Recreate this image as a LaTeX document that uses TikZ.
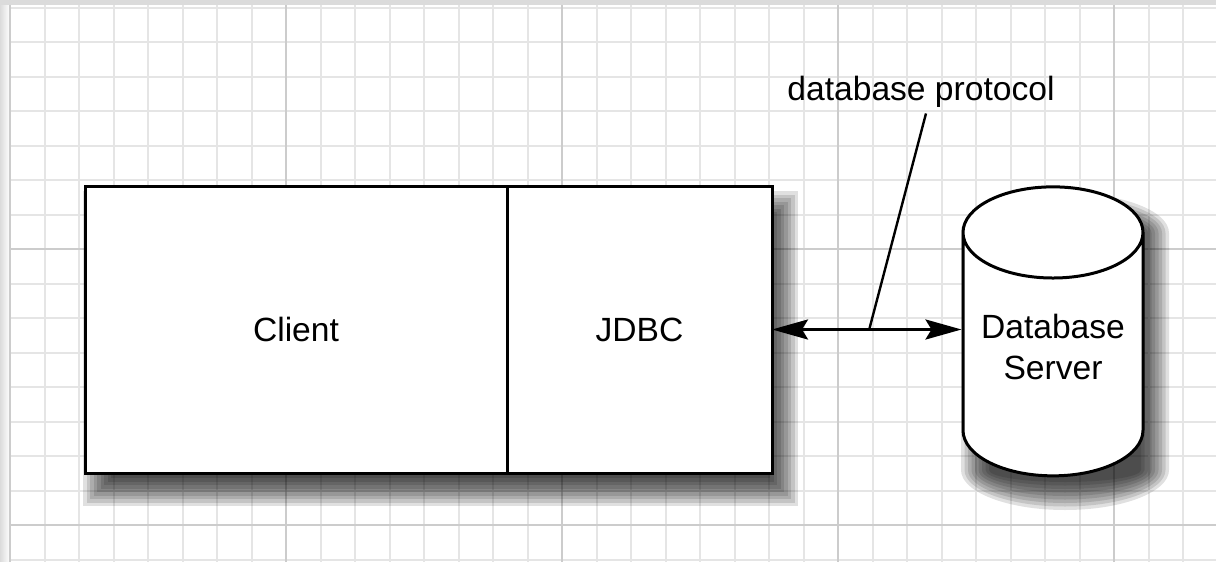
\documentclass[tikz,border=0pt]{standalone}
\usepackage{fontspec}
\setmainfont{Liberation Sans}
\usetikzlibrary{shapes.geometric}
\usetikzlibrary{arrows.meta}
\usetikzlibrary{positioning}
\definecolor{gridminor}{gray}{0.9}
\definecolor{gridmajor}{gray}{0.8}
\definecolor{edgegray}{gray}{0.86}

\begin{document}
\begin{tikzpicture}[x=0.5pt,y=-0.5pt,thick]
\tikzset{
    boxnode/.style = {rectangle, draw=black, line width=1.5pt, fill=white, outer sep=0pt, minimum height=143.5pt, font=\fontsize{16.8}{20.5}\selectfont},
    dbnode/.style  = {cylinder, shape border rotate=90, aspect=0.58, draw=black, line width=1.5pt, fill=white, minimum width=90pt, minimum height=144.5pt, align=center, text depth=16.5pt, font=\fontsize{16.8}{20.5}\selectfont},
    shadowlayer/.style = {black, opacity=0.12},
    conn/.style    = {line width=1.5pt, {Stealth[length=18pt,width=10pt,inset=3pt,fill=black]}-{Stealth[length=18pt,width=10pt,inset=3pt,fill=black]}},
    pointer/.style = {line width=1.2pt}
}
\useasboundingbox (0,0) rectangle (1216,562);
% grid paper
\fill[white] (0,0) rectangle (1216,562);
\shade[left color=edgegray, right color=white] (0,0) rectangle (10,562);
\fill[edgegray] (0,0) rectangle (1216,5);
\foreach \k in {0,...,35}
    \draw[gridminor, line width=1pt] ({10+34.5*\k},5) -- ({10+34.5*\k},562);
\foreach \k in {0,...,16}
    \draw[gridminor, line width=1pt] (10,{7.5+34.5*\k}) -- (1216,{7.5+34.5*\k});
\foreach \k in {0,...,4}
    \draw[gridmajor, line width=1pt] ({10+276*\k},5) -- ({10+276*\k},562);
\foreach \y in {249,525}
    \draw[gridmajor, line width=1pt] (10,\y) -- (1216,\y);

% soft shadows
\foreach \e in {14,10.5,...,-14} {
    \fill[shadowlayer] ({97-\e},{205-\e}) rectangle ({784+\e},{492+\e});
    \fill[shadowlayer] ({975-\e},233) arc[start angle=180, end angle=360, x radius={90+\e}, y radius={26+\e}]
        -- ({1155+\e},470) arc[start angle=0, end angle=180, x radius={90+\e}, y radius={26+\e}] -- cycle;
}

% client side
\coordinate (appNW) at (85,186);
\node[boxnode, minimum width=211pt, anchor=north west] (client) at (appNW) {Client};
\node[boxnode, minimum width=132.5pt, right=0pt of client] (jdbc) {JDBC};

\node[dbnode] (db) at (1053,363.5) {Database\\Server};

\draw[conn] (jdbc.east) -- coordinate[pos=0.513] (tap) (jdbc.east -| db.west);
\node[font=\fontsize{16.8}{20.5}\selectfont, inner sep=2.5pt] (proto) at (921,92) {database protocol};
\draw[pointer] (tap) -- ([xshift=2.5pt]proto.south);
\end{tikzpicture}
\end{document}
